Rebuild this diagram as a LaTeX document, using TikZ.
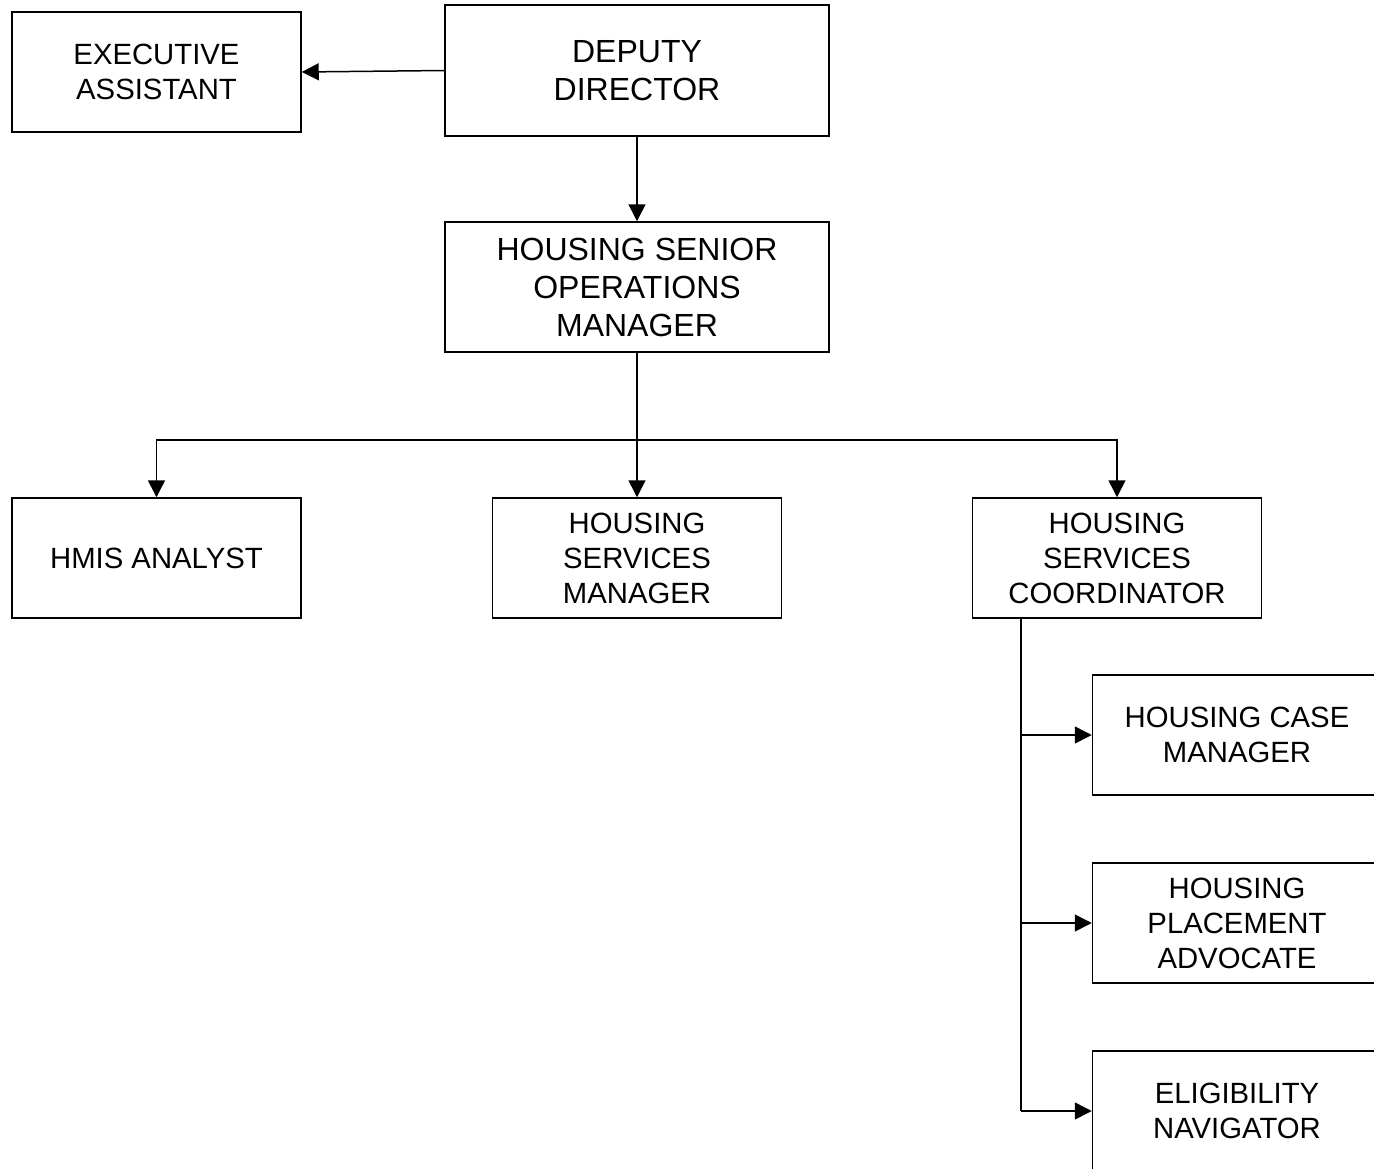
\documentclass[tikz,border=0pt]{standalone}
\usepackage{fontspec}
\setmainfont{Liberation Sans}
\usetikzlibrary{arrows.meta}
\begin{document}
\begin{tikzpicture}[x=1pt,y=1pt,
  box/.style={draw, line width=1.5pt, rectangle, align=center, inner sep=0pt,
    minimum width=289pt, minimum height=120pt, font=\fontsize{29.3}{35}\selectfont},
  bigbox/.style={box, minimum width=384pt, minimum height=131pt, font=\fontsize{32}{38}\selectfont},
  link/.style={line width=1.5pt},
  arr/.style={link, -{Triangle[length=17pt,width=17pt]}}]
\clip (0,0) rectangle (1374,-1168);
\fill[white] (0,0) rectangle (1374,-1168);

% top level
\node[bigbox] (dd) at (637,-70.5) {DEPUTY\\DIRECTOR};
\node[box] (ea) at (156.5,-72) {EXECUTIVE\\ASSISTANT};
\node[bigbox, minimum height=130pt] (hsom) at (637,-287) {HOUSING SENIOR\\OPERATIONS\\MANAGER};

% second row
\node[box] (hmis) at (156.5,-558) {HMIS ANALYST};
\node[box] (hsm) at (637,-558) {HOUSING\\SERVICES\\MANAGER};
\node[box] (hsc) at (1117,-558) {HOUSING\\SERVICES\\COORDINATOR};

% coordinator's team
\node[box] (hcm) at (1237,-735) {HOUSING CASE\\MANAGER};
\node[box] (hpa) at (1237,-923) {HOUSING\\PLACEMENT\\ADVOCATE};
\node[box] (en) at (1237,-1111) {ELIGIBILITY\\NAVIGATOR};

% connectors
\draw[arr] (dd.west) -- (ea.east);
\draw[arr] (dd.south) -- (hsom.north);

\coordinate (bus) at (637,-440);
\draw[arr] (hsom.south) -- (hsm.north);
\draw[arr] (bus) -| (hmis.north);
\draw[arr] (bus) -| (hsc.north);

\coordinate (spine) at (1021,-618);
\draw[link] (spine) -- (spine |- en.west);
\draw[arr] (spine |- hcm.west) -- (hcm.west);
\draw[arr] (spine |- hpa.west) -- (hpa.west);
\draw[arr] (spine |- en.west) -- (en.west);
\end{tikzpicture}
\end{document}
